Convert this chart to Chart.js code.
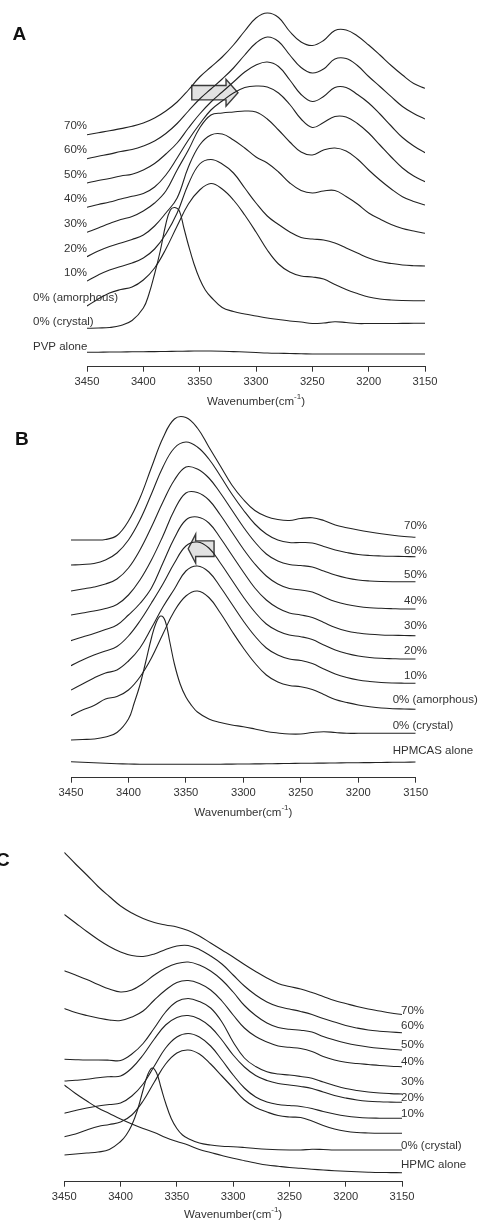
<!DOCTYPE html>
<html>
<head>
<meta charset="utf-8">
<script src="https://cdn.jsdelivr.net/npm/chart.js@4.4.1/dist/chart.umd.min.js"></script>
<style>
  html, body { margin: 0; padding: 0; background: #fff; }
  body { width: 481px; height: 1221px; position: relative; overflow: hidden; }
  canvas { position: absolute; left: 0; }
  .panel { position: absolute; font: bold 19px "Liberation Sans", Arial, sans-serif; line-height: 19px; color: #111; }
</style>
</head>
<body>
<canvas id="chartA" width="481" height="409" style="top:0px"></canvas>
<canvas id="chartB" width="481" height="411" style="top:409px"></canvas>
<canvas id="chartC" width="481" height="401" style="top:820px"></canvas>
<div class="panel" style="left:12.5px;top:24px">A</div>
<div class="panel" style="left:15px;top:429px">B</div>
<div class="panel" style="left:-4px;top:850px">C</div>
<script>
// Wavenumber grids (cm-1), high to low as plotted
const wavenumber = [3450,3440,3430,3420,3410,3400,3390,3380,3370,3360,3350,3340,3330,3320,3310,3300,
  3290,3280,3270,3260,3250,3240,3230,3220,3210,3200,3190,3180,3170,3160,3150];
const wavenumberCrystal = [3450,3440,3430,3420,3410,3400,3395,3390,3385,3380,3376,3372,3368,3364,3360,3355,
  3350,3345,3340,3330,3320,3310,3300,3290,3280,3270,3260,3250,3240,3230,3220,3210,3200,3190,3180,3170,3160,3150];
const xTicks = [3450,3400,3350,3300,3250,3200,3150];

// Panel A: dispersions in PVP (offset absorbance, a.u.)
const pvp70 = [232.0,234.0,235.9,238.1,240.4,243.7,248.7,255.7,264.7,276.7,289.7,299.7,309.7,321.7,335.7,348.7,353.7,349.2,335.2,324.7,321.2,326.2,336.2,336.7,330.7,321.7,311.7,301.2,291.7,283.2,278.4];
const pvp60 = [208.0,210.4,212.6,215.2,217.2,220.7,225.7,233.2,243.2,255.7,267.7,277.7,287.7,298.7,311.7,323.7,329.7,325.2,311.7,299.2,293.7,297.7,307.7,308.2,301.2,290.2,280.2,270.0,260.2,253.2,247.7];
const pvp50 = [183.7,186.2,188.2,190.7,192.5,196.7,203.2,212.7,223.7,238.7,252.7,264.7,274.7,284.7,294.7,301.7,304.7,300.2,286.7,272.2,265.2,270.2,279.2,279.2,272.2,263.7,252.7,240.7,229.2,220.7,214.0];
const pvp40 = [159.4,162.2,164.7,167.7,170.4,173.2,179.7,191.7,208.7,226.7,242.7,256.7,265.7,273.7,279.2,280.7,279.7,273.7,262.2,247.7,239.2,244.2,250.2,249.7,243.2,233.7,221.7,209.7,198.7,190.7,185.0];
const pvp30 = [134.4,138.7,143.2,147.2,150.2,155.7,163.7,175.7,196.7,216.7,238.7,251.7,253.7,254.7,255.7,254.7,247.7,236.7,224.7,214.7,211.7,216.7,218.7,215.7,207.7,196.7,186.7,177.7,170.0,165.2,161.7];
const pvp20 = [110.0,115.7,120.2,123.7,127.2,131.7,140.7,153.7,168.7,199.7,221.7,231.7,232.7,226.7,218.7,209.7,203.7,194.7,183.7,176.2,173.7,175.7,176.2,170.2,162.7,153.7,147.7,142.2,138.2,135.7,133.4];
const pvp10 = [85.7,91.7,96.7,100.2,103.7,108.7,117.7,132.7,153.7,182.7,202.7,207.2,202.7,193.7,178.7,163.7,150.7,142.2,134.7,129.2,127.7,126.7,123.7,118.7,113.7,108.7,105.2,103.2,101.7,101.0,100.7];
const pvpAmorphous0 = [60.7,67.7,73.7,77.2,79.7,86.7,98.7,117.7,140.7,162.7,176.7,183.2,177.7,166.7,151.7,134.7,116.7,102.7,94.7,90.7,89.7,87.7,82.2,77.2,73.2,69.7,67.7,66.7,66.2,66.0,66.0];
const pvpCrystal0 = [38.4,38.7,39.2,41.2,46.2,58.7,72.7,92.7,115.7,142.7,156.7,159.2,155.7,138.7,121.7,102.7,87.7,76.7,69.7,59.2,55.2,52.7,50.7,48.7,47.2,45.7,44.7,43.2,43.7,45.0,44.2,43.2,43.2,43.2,43.2,43.3,43.4,43.4];
const pvpAlone = [14.4,14.5,14.7,14.7,14.9,15.0,15.1,15.2,15.4,15.6,15.7,15.7,15.5,15.1,14.7,14.2,13.7,13.4,13.2,13.0,12.7,12.7,12.7,12.7,12.7,12.7,12.7,12.7,12.7,12.7,12.7];

// Panel B: dispersions in HPMCAS
const hpmcas70 = [237.7,237.7,237.7,238.2,242.2,256.7,279.7,310.2,339.7,358.7,360.2,349.7,330.7,311.7,292.7,278.2,267.2,261.2,258.2,257.2,259.2,260.0,257.2,252.7,250.0,247.7,245.7,243.9,242.4,241.2,240.4];
const hpmcas60 = [212.7,213.2,214.2,217.7,224.7,237.7,257.7,283.7,310.7,329.7,335.7,330.7,318.7,301.7,283.7,267.7,253.7,243.7,237.7,235.2,235.2,234.7,231.2,227.7,225.2,223.2,222.2,221.7,221.4,221.2,221.0];
const hpmcas50 = [186.7,188.7,190.7,193.7,198.7,209.7,227.7,250.7,275.7,297.7,310.7,308.7,299.7,284.7,267.7,250.7,235.7,223.7,216.7,213.2,212.2,210.7,206.7,202.7,199.7,197.7,196.7,196.2,196.0,196.0,196.0];
const hpmcas40 = [162.7,164.7,166.7,169.2,173.2,182.7,197.7,217.7,241.7,267.7,284.7,285.2,277.7,262.7,245.7,228.7,213.7,201.7,193.7,189.2,187.7,185.7,180.7,176.2,173.2,171.2,170.0,169.4,169.0,168.7,168.7];
const hpmcas30 = [137.0,140.7,144.2,148.2,152.7,162.7,174.2,189.7,214.7,239.7,257.7,260.7,254.7,239.7,222.7,205.7,189.7,177.7,169.7,164.7,162.7,160.2,155.2,150.2,146.7,144.7,143.4,142.7,142.4,142.2,142.0];
const hpmcas20 = [112.0,117.7,122.7,126.7,131.2,141.7,156.7,174.7,193.7,214.7,231.7,235.7,229.7,214.7,197.7,180.7,165.7,153.7,146.7,142.7,141.0,138.2,132.7,127.7,124.2,121.7,120.2,119.4,119.0,118.7,118.7];
const hpmcas10 = [87.7,93.7,99.7,104.7,107.7,116.7,129.7,149.7,170.7,188.7,206.7,211.7,205.7,190.7,173.7,156.7,141.7,129.7,122.7,118.7,117.2,114.2,108.7,103.7,100.2,97.7,96.2,95.2,94.7,94.5,94.4];
const hpmcasAmorphous0 = [62.0,67.7,72.2,78.7,81.2,87.7,100.7,119.7,143.7,166.7,181.7,186.7,180.2,164.7,146.7,129.7,114.7,102.7,95.7,92.2,91.0,88.2,83.2,78.2,75.2,72.7,71.0,69.7,69.0,68.7,68.4];
const hpmcasCrystal0 = [37.7,38.2,38.7,40.7,45.2,58.7,74.7,92.7,115.7,139.7,154.7,161.7,156.7,135.7,113.7,93.7,80.7,72.2,65.7,58.7,55.2,52.7,51.0,48.7,46.2,44.7,43.7,43.7,45.2,46.0,45.2,44.4,44.4,44.4,44.4,44.4,44.4,44.4];
const hpmcasAlone = [16.0,15.4,14.9,14.4,14.0,13.7,13.5,13.4,13.4,13.4,13.4,13.4,13.4,13.5,13.6,13.7,13.8,13.9,14.1,14.2,14.4,14.5,14.6,14.7,14.9,15.0,15.1,15.2,15.4,15.5,15.7];

// Panel C: dispersions in HPMC
const hpmc70 = [329.2,317.7,306.7,295.2,285.2,275.7,268.7,263.2,259.2,256.7,254.7,251.2,245.7,238.7,231.7,224.7,217.2,210.2,203.7,198.2,195.2,192.7,189.2,185.2,181.2,178.2,175.2,172.7,170.7,168.7,167.2];
const hpmc60 = [267.2,258.7,250.2,242.2,235.2,229.7,226.2,225.2,227.7,232.2,235.7,236.2,232.2,225.7,217.7,206.7,195.7,186.7,179.7,175.2,172.7,170.2,167.2,163.2,159.7,156.2,153.7,151.7,150.5,149.7,149.0];
const hpmc50 = [211.0,206.7,202.2,197.2,192.7,189.7,191.7,198.2,206.7,213.7,218.2,219.7,216.7,210.7,201.7,189.7,176.2,166.2,158.7,154.2,152.4,151.5,149.7,145.2,141.7,138.7,136.4,134.7,133.4,132.4,131.7];
const hpmc40 = [173.2,169.2,166.2,163.7,161.7,161.2,164.7,170.7,181.7,191.7,199.2,201.2,198.2,191.7,180.7,166.7,153.7,145.2,139.7,135.7,134.4,133.2,130.2,125.2,121.7,119.4,118.2,117.2,116.2,115.5,115.0];
const hpmc30 = [122.4,122.0,121.7,121.7,121.5,121.2,127.7,138.2,153.7,169.7,180.2,183.2,180.2,173.7,159.7,139.7,123.7,115.2,110.0,107.7,106.7,105.2,103.4,99.7,96.2,93.2,91.2,89.7,88.7,88.1,87.7];
const hpmc20 = [100.7,101.4,102.4,104.0,105.0,105.7,113.7,126.7,142.7,156.7,164.2,166.2,162.7,154.7,141.7,126.7,114.7,106.2,101.2,98.2,96.7,95.2,93.2,89.7,86.2,83.7,81.7,80.5,79.9,79.6,79.4];
const hpmc10 = [68.4,71.2,73.7,75.7,77.2,78.7,85.7,97.7,115.7,133.7,144.7,148.2,144.7,135.7,121.7,106.7,93.7,84.7,79.7,77.2,76.2,75.2,73.2,70.2,67.7,65.7,64.4,63.7,63.5,63.4,63.4];
const hpmcAmorphous0 = [45.0,47.7,51.7,55.2,57.2,59.7,66.7,80.7,99.7,117.7,128.7,131.7,127.7,117.7,105.7,93.7,81.7,74.2,69.7,66.2,64.7,64.2,60.7,56.2,52.7,50.4,49.2,48.7,48.4,48.4,48.4];
const hpmcCrystal0 = [26.7,27.7,28.7,29.7,32.2,40.2,46.7,56.7,71.7,91.7,106.7,113.7,108.7,93.7,78.7,63.2,53.2,46.7,43.2,38.7,36.7,35.4,35.0,34.2,33.2,32.4,31.9,31.7,31.7,32.5,32.2,31.7,31.7,31.7,31.7,31.7,31.7,31.7];
const hpmcAlone = [96.7,88.2,80.7,73.7,68.2,62.7,57.7,53.2,49.2,44.2,40.2,36.7,32.2,29.2,26.2,23.4,21.0,18.7,16.7,15.4,14.2,13.4,12.5,11.7,11.0,10.4,9.9,9.5,9.2,9.1,9.0];

const FONT = '"Liberation Sans", Arial, sans-serif';
const INK = '#222';
const TEXT = '#333';

function series(label, xs, ys) {
  return { label, data: xs.map((x, i) => ({ x, y: ys[i] })) };
}

// Text tags beside the curve ends
function labelPlugin(labels) {
  return {
    id: 'curveLabels',
    afterDatasetsDraw(chart) {
      const { ctx, scales: { x, y } } = chart;
      ctx.save();
      ctx.font = '11.5px ' + FONT;
      ctx.fillStyle = TEXT;
      ctx.textBaseline = 'middle';
      labels.forEach(l => {
        const pts = chart.data.datasets[l.ds].data;
        const p = l.at === 'start' ? pts[0] : pts[pts.length - 1];
        ctx.textAlign = l.align;
        ctx.fillText(l.text, x.getPixelForValue(p.x) + l.dx, y.getPixelForValue(p.y) + l.dy);
      });
      ctx.restore();
    }
  };
}

// Block arrow marking the band shift
function arrowPlugin(a) {
  return {
    id: 'shiftArrow',
    beforeDatasetsDraw(chart) {
      const { ctx, scales: { x, y } } = chart;
      const x0 = x.getPixelForValue(a.from), x1 = x.getPixelForValue(a.to), xh = x.getPixelForValue(a.headAt);
      const yc = y.getPixelForValue(a.level);
      ctx.save();
      ctx.beginPath();
      ctx.moveTo(x0, yc - a.body); ctx.lineTo(xh, yc - a.body); ctx.lineTo(xh, yc - a.head);
      ctx.lineTo(x1, yc); ctx.lineTo(xh, yc + a.head); ctx.lineTo(xh, yc + a.body);
      ctx.lineTo(x0, yc + a.body); ctx.closePath();
      ctx.fillStyle = '#e2e2e2'; ctx.fill();
      ctx.lineWidth = 1.4; ctx.strokeStyle = '#3a3a3a'; ctx.lineJoin = 'miter'; ctx.stroke();
      ctx.restore();
    }
  };
}

// Axis title with superscript unit
function titlePlugin(offset) {
  return {
    id: 'axisTitle',
    afterDraw(chart) {
      const { ctx, chartArea } = chart;
      const cx = (chartArea.left + chartArea.right) / 2, cy = chartArea.bottom + offset;
      const main = 'Wavenumber(cm', sup = '-1', close = ')';
      ctx.save();
      ctx.fillStyle = TEXT; ctx.textBaseline = 'middle'; ctx.textAlign = 'left';
      ctx.font = '11.5px ' + FONT; const w1 = ctx.measureText(main).width, w3 = ctx.measureText(close).width;
      ctx.font = '8px ' + FONT; const w2 = ctx.measureText(sup).width;
      let sx = cx - (w1 + w2 + w3) / 2;
      ctx.font = '11.5px ' + FONT; ctx.fillText(main, sx, cy); sx += w1;
      ctx.font = '8px ' + FONT; ctx.fillText(sup, sx, cy - 4.5); sx += w2;
      ctx.font = '11.5px ' + FONT; ctx.fillText(close, sx, cy);
      ctx.restore();
    }
  };
}

function spectraChart(id, cfg) {
  const datasets = cfg.series.map(s => Object.assign(s, {
    borderColor: INK, borderWidth: 1.1, pointRadius: 0, fill: false, tension: 0.4
  }));
  const extra = [labelPlugin(cfg.labels), titlePlugin(cfg.titleOffset)];
  if (cfg.arrow) extra.unshift(arrowPlugin(cfg.arrow));
  return new Chart(document.getElementById(id), {
    type: 'line',
    data: { datasets },
    options: {
      responsive: false, animation: false, devicePixelRatio: 1,
      layout: { padding: { left: cfg.left, right: 481 - cfg.right, top: 0, bottom: 0 } },
      scales: {
        x: {
          type: 'linear', reverse: true, min: 3150, max: 3450,
          afterFit: s => { s.height = cfg.axisHeight; },
          afterBuildTicks: s => { s.ticks = xTicks.map(v => ({ value: v })); },
          ticks: { color: TEXT, font: { family: FONT, size: 11.2 }, padding: 3, maxRotation: 0, autoSkip: false,
                   callback: v => String(v) },
          grid: { display: true, drawOnChartArea: false, drawTicks: true, tickLength: 5, color: '#333', lineWidth: 1 },
          border: { display: true, color: '#333', width: 1 }
        },
        y: { display: false, min: 0, max: cfg.yMax }
      },
      plugins: { legend: { display: false }, tooltip: { enabled: false } }
    },
    plugins: extra
  });
}

// A: PVP
spectraChart('chartA', {
  left: 87, right: 425, axisHeight: 42.3, yMax: 366.7, titleOffset: 35,
  series: [
    series('70%', wavenumber, pvp70), series('60%', wavenumber, pvp60), series('50%', wavenumber, pvp50),
    series('40%', wavenumber, pvp40), series('30%', wavenumber, pvp30), series('20%', wavenumber, pvp20),
    series('10%', wavenumber, pvp10), series('0% (amorphous)', wavenumber, pvpAmorphous0),
    series('0% (crystal)', wavenumberCrystal, pvpCrystal0), series('PVP alone', wavenumber, pvpAlone)
  ],
  labels: [
    { ds: 0, text: '70%', at: 'start', align: 'right', dx: 0, dy: -8.5 },
    { ds: 1, text: '60%', at: 'start', align: 'right', dx: 0, dy: -8.5 },
    { ds: 2, text: '50%', at: 'start', align: 'right', dx: 0, dy: -8.3 },
    { ds: 3, text: '40%', at: 'start', align: 'right', dx: 0, dy: -8 },
    { ds: 4, text: '30%', at: 'start', align: 'right', dx: 0, dy: -8.5 },
    { ds: 5, text: '20%', at: 'start', align: 'right', dx: 0, dy: -8 },
    { ds: 6, text: '10%', at: 'start', align: 'right', dx: 0, dy: -8.3 },
    { ds: 7, text: '0% (amorphous)', at: 'start', align: 'left', dx: -54, dy: -8.4 },
    { ds: 8, text: '0% (crystal)', at: 'start', align: 'left', dx: -54, dy: -6 },
    { ds: 9, text: 'PVP alone', at: 'start', align: 'left', dx: -54, dy: -5.6 }
  ],
  arrow: { from: 3357, to: 3316, headAt: 3326.6, level: 274, body: 7.2, head: 13.4 }
});

// B: HPMCAS
spectraChart('chartB', {
  left: 71, right: 415.7, axisHeight: 42.3, yMax: 368.7, titleOffset: 35,
  series: [
    series('70%', wavenumber, hpmcas70), series('60%', wavenumber, hpmcas60), series('50%', wavenumber, hpmcas50),
    series('40%', wavenumber, hpmcas40), series('30%', wavenumber, hpmcas30), series('20%', wavenumber, hpmcas20),
    series('10%', wavenumber, hpmcas10), series('0% (amorphous)', wavenumber, hpmcasAmorphous0),
    series('0% (crystal)', wavenumberCrystal, hpmcasCrystal0), series('HPMCAS alone', wavenumber, hpmcasAlone)
  ],
  labels: [
    { ds: 0, text: '70%', at: 'end', align: 'right', dx: 11.3, dy: -11.3 },
    { ds: 1, text: '60%', at: 'end', align: 'right', dx: 11.3, dy: -6 },
    { ds: 2, text: '50%', at: 'end', align: 'right', dx: 11.3, dy: -6.7 },
    { ds: 3, text: '40%', at: 'end', align: 'right', dx: 11.3, dy: -8 },
    { ds: 4, text: '30%', at: 'end', align: 'right', dx: 11.3, dy: -10 },
    { ds: 5, text: '20%', at: 'end', align: 'right', dx: 11.3, dy: -8 },
    { ds: 6, text: '10%', at: 'end', align: 'right', dx: 11.3, dy: -7.3 },
    { ds: 7, text: '0% (amorphous)', at: 'end', align: 'left', dx: -23, dy: -9.3 },
    { ds: 8, text: '0% (crystal)', at: 'end', align: 'left', dx: -23, dy: -7.6 },
    { ds: 9, text: 'HPMCAS alone', at: 'end', align: 'left', dx: -23, dy: -11.3 }
  ],
  arrow: { from: 3325.5, to: 3348, headAt: 3341.5, level: 229, body: 7.8, head: 14.5 }
});

// C: HPMC
spectraChart('chartC', {
  left: 64.3, right: 402, axisHeight: 39.3, yMax: 361.7, titleOffset: 33,
  series: [
    series('70%', wavenumber, hpmc70), series('60%', wavenumber, hpmc60), series('50%', wavenumber, hpmc50),
    series('40%', wavenumber, hpmc40), series('30%', wavenumber, hpmc30), series('20%', wavenumber, hpmc20),
    series('10%', wavenumber, hpmc10), series('0% (amorphous)', wavenumber, hpmcAmorphous0),
    series('0% (crystal)', wavenumberCrystal, hpmcCrystal0), series('HPMC alone', wavenumber, hpmcAlone)
  ],
  labels: [
    { ds: 0, text: '70%', at: 'end', align: 'left', dx: -1, dy: -3.5 },
    { ds: 1, text: '60%', at: 'end', align: 'left', dx: -1, dy: -6.5 },
    { ds: 2, text: '50%', at: 'end', align: 'left', dx: -1, dy: -5.5 },
    { ds: 3, text: '40%', at: 'end', align: 'left', dx: -1, dy: -4.5 },
    { ds: 4, text: '30%', at: 'end', align: 'left', dx: -1, dy: -12.3 },
    { ds: 5, text: '20%', at: 'end', align: 'left', dx: -1, dy: -4.3 },
    { ds: 6, text: '10%', at: 'end', align: 'left', dx: -1, dy: -4.6 },
    { ds: 8, text: '0% (crystal)', at: 'end', align: 'left', dx: -1, dy: -4 },
    { ds: 9, text: 'HPMC alone', at: 'end', align: 'left', dx: -1, dy: -7.7 }
  ],
  arrow: null
});
</script>
</body>
</html>
